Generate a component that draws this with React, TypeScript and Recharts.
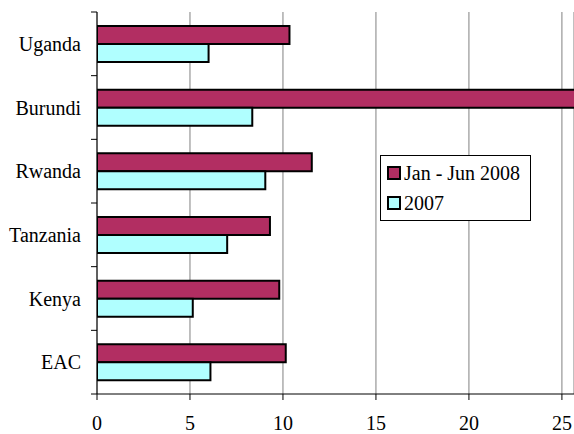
import { Bar, BarChart, CartesianGrid, Legend, XAxis, YAxis } from "recharts";

const countries = ["Uganda", "Burundi", "Rwanda", "Tanzania", "Kenya", "EAC"];
const janJun2008 = [10.35, 27, 11.55, 9.3, 9.8, 10.15];
const year2007 = [6.0, 8.35, 9.05, 7.0, 5.15, 6.1];
const xTicks = [0, 5, 10, 15, 20, 25];
const seriesNames = ["Jan - Jun 2008", "2007"];

const WIDTH = 574;
const HEIGHT = 434;
const MARGIN = { top: 12, right: 0, bottom: 0, left: 0 };
const Y_AXIS_W = 97;
const X_AXIS_H = 40;
const FONT = "Liberation Serif, Times New Roman, serif";
const FONT_SIZE = 20;
const MAGENTA = "#B22E62";
const CYAN = "#B0FFFF";

const data = countries.map((name, i) => ({
  name,
  jan: janJun2008[i],
  y2007: year2007[i],
}));

// height of one category band, used to put the y tick marks between categories
const bandH = (HEIGHT - MARGIN.top - MARGIN.bottom - X_AXIS_H) / countries.length;

function CategoryTick(props: any) {
  const { y, payload, index } = props;
  const axisX = Y_AXIS_W;
  return (
    <g>
      <line x1={axisX - 6} x2={axisX} y1={y - bandH / 2} y2={y - bandH / 2} stroke="#000" />
      {index === countries.length - 1 && (
        <line x1={axisX - 6} x2={axisX} y1={y + bandH / 2} y2={y + bandH / 2} stroke="#000" />
      )}
      <text
        x={axisX - 16}
        y={y}
        textAnchor="end"
        dominantBaseline="central"
        fill="#000"
        fontSize={FONT_SIZE}
        fontFamily={FONT}
      >
        {payload.value}
      </text>
    </g>
  );
}

function LegendBox() {
  const colors = [MAGENTA, CYAN];
  return (
    <div
      style={{
        border: "1px solid #000",
        background: "#fff",
        width: 149,
        padding: "2px 0",
        fontFamily: FONT,
        fontSize: FONT_SIZE,
        color: "#000",
      }}
    >
      {seriesNames.map((s, i) => (
        <div key={s} style={{ display: "flex", alignItems: "center", height: 30 }}>
          <span
            style={{
              display: "inline-block",
              width: 10,
              height: 10,
              marginLeft: 6,
              marginRight: 3,
              border: "2px solid #000",
              background: colors[i],
            }}
          />
          <span>{s}</span>
        </div>
      ))}
    </div>
  );
}

export default function App() {
  return (
    <div style={{ width: WIDTH, height: HEIGHT, background: "#fff" }}>
      <style>{"body{margin:0}"}</style>
      <BarChart
        width={WIDTH}
        height={HEIGHT}
        data={data}
        layout="vertical"
        margin={MARGIN}
        barSize={18}
        barGap={0}
      >
        <CartesianGrid horizontal={false} stroke="#808080" />
        <XAxis
          type="number"
          domain={[0, 25.65]}
          ticks={xTicks}
          allowDataOverflow
          height={X_AXIS_H}
          tickSize={6}
          tickMargin={16}
          axisLine={{ stroke: "#000" }}
          tickLine={{ stroke: "#000" }}
          tick={{ fill: "#000", fontSize: FONT_SIZE, fontFamily: FONT }}
        />
        <YAxis
          type="category"
          dataKey="name"
          width={Y_AXIS_W}
          axisLine={{ stroke: "#000" }}
          tickLine={false}
          tick={<CategoryTick />}
          interval={0}
        />
        <Legend
          layout="vertical"
          align="center"
          verticalAlign="middle"
          content={<LegendBox />}
          wrapperStyle={{ left: 380, top: 155, width: 151 }}
        />
        <Bar dataKey="jan" name={seriesNames[0]} fill={MAGENTA} stroke="#000" strokeWidth={2} isAnimationActive={false} />
        <Bar dataKey="y2007" name={seriesNames[1]} fill={CYAN} stroke="#000" strokeWidth={2} isAnimationActive={false} />
      </BarChart>
    </div>
  );
}
